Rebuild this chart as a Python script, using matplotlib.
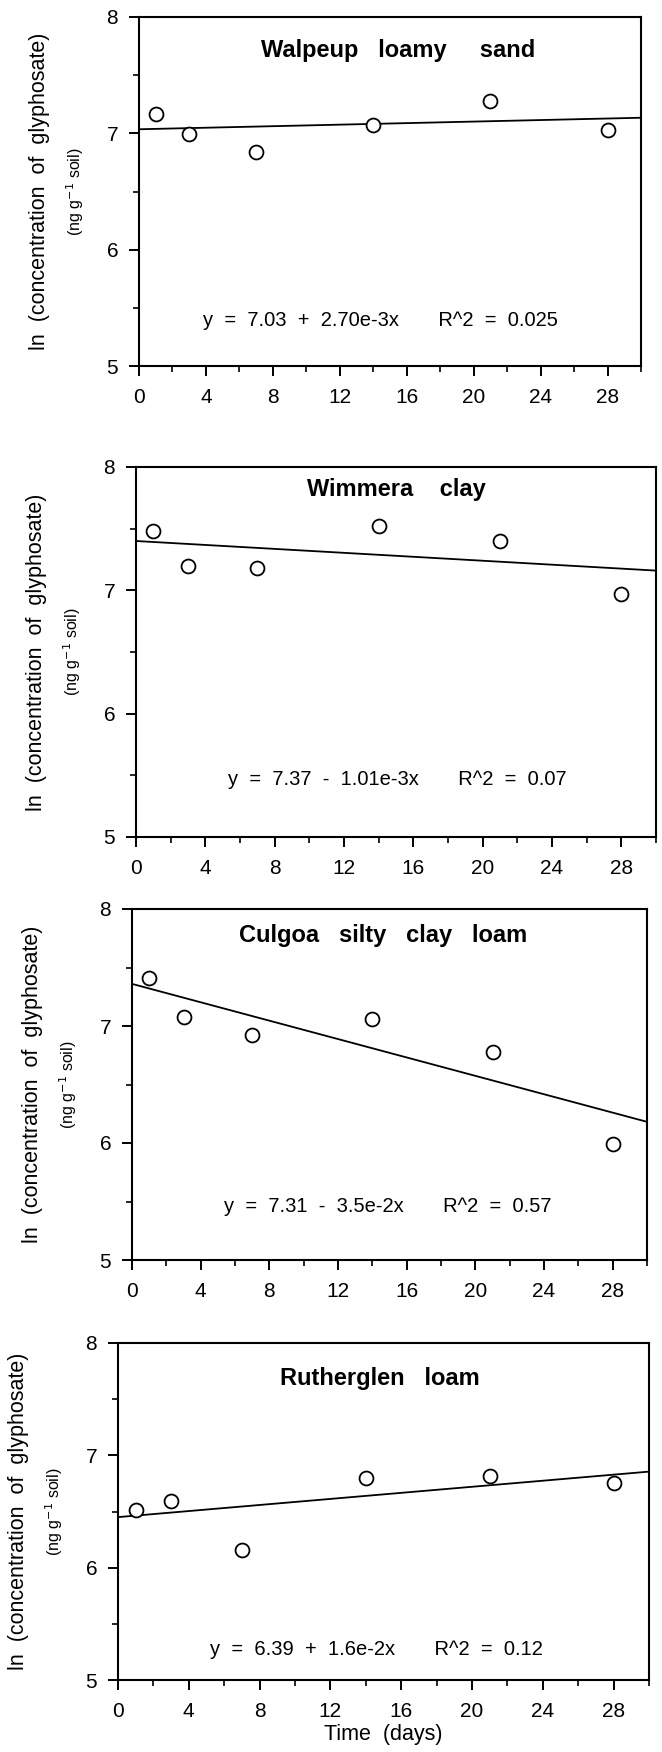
import numpy as np
import matplotlib
matplotlib.use("Agg")
import matplotlib.pyplot as plt
from matplotlib.ticker import MultipleLocator

plt.rcParams['font.family'] = ['Liberation Sans', 'DejaVu Sans']

# ---- data ----
days = [1, 3, 7, 14, 21, 28]
titles = ["Walpeup   loamy     sand", "Wimmera    clay",
          "Culgoa   silty   clay   loam", "Rutherglen   loam"]
walpeup = [7.17, 6.99, 6.84, 7.07, 7.28, 7.03]
wimmera = [7.48, 7.20, 7.18, 7.52, 7.40, 6.97]
culgoa = [7.41, 7.08, 6.92, 7.06, 6.78, 5.99]
rutherglen = [6.51, 6.59, 6.16, 6.80, 6.82, 6.75]
series = [walpeup, wimmera, culgoa, rutherglen]
# drawn regression lines (intercept, slope) as they appear in the plot
fit_intercept = [7.035, 7.40, 7.36, 6.45]
fit_slope = [0.0033, -0.0080, -0.0393, 0.0135]
equations = ["y  =  7.03  +  2.70e-3x       R^2  =  0.025",
             "y  =  7.37  -  1.01e-3x       R^2  =  0.07",
             "y  =  7.31  -  3.5e-2x       R^2  =  0.57",
             "y  =  6.39  +  1.6e-2x       R^2  =  0.12"]
x_ticks = [0, 4, 8, 12, 16, 20, 24, 28]
y_ticks = [5, 6, 7, 8]

# ---- layout (pixels: left, right, top, bottom) ----
W, H = 662, 1752
boxes = [(139, 641, 17, 366), (136, 656, 467, 837),
         (132, 647, 909, 1260), (118, 649, 1343, 1680)]
title_pos = [(15.5, 7.71), (15.0, 7.82), (14.6, 7.77), (14.8, 7.68)]
eq_pos = [(14.4, 5.39), (15.1, 5.47), (14.9, 5.46), (14.6, 5.27)]

fig = plt.figure(figsize=(W / 100, H / 100), dpi=100)

for i in range(4):
    l, r, t, b = boxes[i]
    ax = fig.add_axes([l / W, 1 - b / H, (r - l) / W, (b - t) / H])
    ax.set_xlim(0, 30)
    ax.set_ylim(5, 8)
    for s in ax.spines.values():
        s.set_linewidth(1.5)
    ax.xaxis.set_major_locator(MultipleLocator(4))
    ax.xaxis.set_minor_locator(MultipleLocator(2))
    ax.yaxis.set_major_locator(MultipleLocator(1))
    ax.yaxis.set_minor_locator(MultipleLocator(0.5))
    ax.set_xticks(x_ticks)
    ax.set_yticks(y_ticks)
    ax.tick_params(which='major', direction='out', length=7, width=1.4,
                   labelsize=15, pad=8)
    ax.tick_params(which='minor', direction='out', length=4, width=1.2)
    ax.tick_params(axis='x', which='major', pad=9)

    xl = np.array(ax.get_xlim())
    ax.plot(xl, fit_intercept[i] + fit_slope[i] * xl, color='black', lw=1.3,
            clip_on=False, zorder=2)
    ax.plot(days, series[i], linestyle='none', marker='o', markersize=10,
            markerfacecolor='white', markeredgecolor='black',
            markeredgewidth=1.3, zorder=3)

    ax.text(title_pos[i][0], title_pos[i][1], titles[i], ha='center',
            va='center', fontsize=17, fontweight='bold')
    ax.text(eq_pos[i][0], eq_pos[i][1], equations[i], ha='center',
            va='center', fontsize=14.5)

    yc = 1 - (t + b) / 2 / H
    fig.text((l - 99) / W, yc, "ln  (concentration  of  glyphosate)",
             rotation=90, ha='center', va='center', fontsize=15.5)
    fig.text((l - 64) / W, yc, "(ng g$^{-1}$ soil)",
             rotation=90, ha='center', va='center', fontsize=11.5)

    if i == 3:
        ax.set_xlabel("Time  (days)", fontsize=15.5, labelpad=2)

fig.savefig("out.png", dpi=100, facecolor='white')
